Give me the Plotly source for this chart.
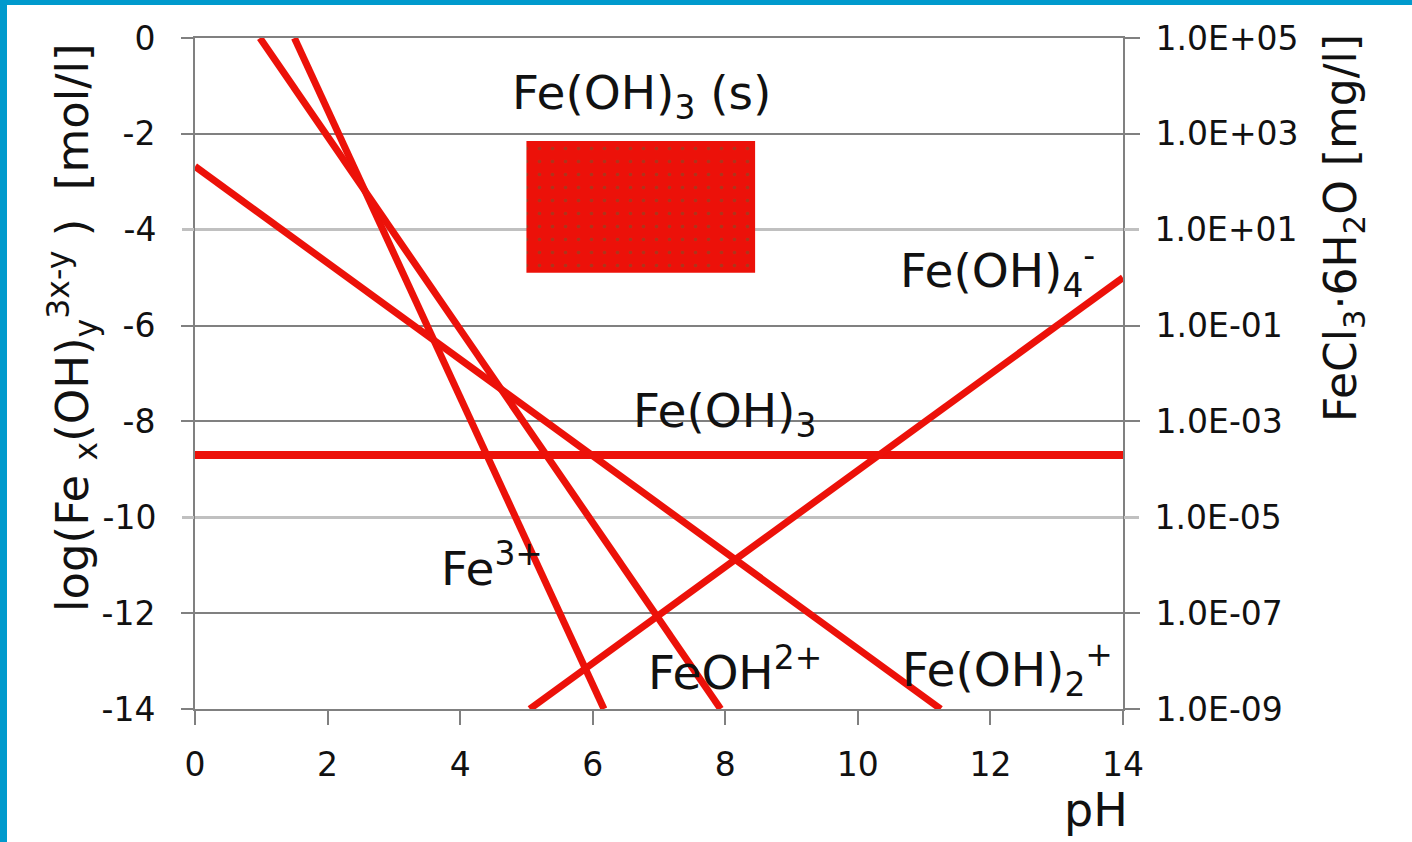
import plotly.graph_objects as go

# ---- data ----
ph_fe3 = [1.5, 6.17]
log_fe3 = [0.0, -14.0]
ph_feoh2 = [0.98, 7.93]
log_feoh2 = [0.0, -14.0]
ph_feoh2p = [0.0, 11.25]
log_feoh2p = [-2.68, -14.0]
ph_feoh3 = [0.0, 14.0]
log_feoh3 = [-8.7, -8.7]
ph_feoh4 = [5.05, 14.0]
log_feoh4 = [-14.0, -5.0]
solid_ph = [5.0, 8.45]
solid_log = [-2.15, -4.9]

x_ticks = [0, 2, 4, 6, 8, 10, 12, 14]
left_ticks_dark = [0, -2, -6, -8, -12, -14]
left_ticks_light = [-4, -10]
right_ticks_dark = [1e5, 1e3, 1e-1, 1e-3, 1e-7, 1e-9]
right_text_dark = ["1.0E+05", "1.0E+03", "1.0E-01", "1.0E-03", "1.0E-07", "1.0E-09"]
right_ticks_light = [1e1, 1e-5]
right_text_light = ["1.0E+01", "1.0E-05"]

labels = [
    ("Fe(OH)<sub>3</sub> (s)", 4.75, -1.21),
    ("Fe(OH)<sub>4</sub><sup>-</sup>", 10.6, -4.86),
    ("Fe(OH)<sub>3</sub>", 6.58, -7.84),
    ("Fe<sup>3+</sup>", 3.68, -11.0),
    ("FeOH<sup>2+</sup>", 6.8, -13.17),
    ("Fe(OH)<sub>2</sub><sup>+</sup>", 10.64, -13.17),
]

RED = "#ec1109"
DARK = "#808080"
LIGHT = "#c0c0c0"
FONT = "DejaVu Sans"

fig = go.Figure()

# solid Fe(OH)3 region
fig.add_trace(go.Scatter(
    x=[solid_ph[0], solid_ph[1], solid_ph[1], solid_ph[0], solid_ph[0]],
    y=[solid_log[0], solid_log[0], solid_log[1], solid_log[1], solid_log[0]],
    mode="lines", line=dict(width=0), fill="toself", fillcolor=RED,
    fillpattern=dict(shape=".", bgcolor=RED, fgcolor="#6b5a2e", size=13, solidity=0.06),
    hoverinfo="skip", showlegend=False))

for xs, ys, w in [(ph_fe3, log_fe3, 7), (ph_feoh2, log_feoh2, 7), (ph_feoh2p, log_feoh2p, 7),
                  (ph_feoh3, log_feoh3, 8), (ph_feoh4, log_feoh4, 7)]:
    fig.add_trace(go.Scatter(x=xs, y=ys, mode="lines", line=dict(color=RED, width=w),
                             showlegend=False, hoverinfo="skip", cliponaxis=False))

# placeholder traces for extra axes
fig.add_trace(go.Scatter(x=[0], y=[1], yaxis="y2", mode="markers", marker=dict(opacity=0),
                         showlegend=False, hoverinfo="skip"))
fig.add_trace(go.Scatter(x=[0], y=[-1], yaxis="y3", mode="markers", marker=dict(opacity=0),
                         showlegend=False, hoverinfo="skip"))
fig.add_trace(go.Scatter(x=[0], y=[1], yaxis="y4", mode="markers", marker=dict(opacity=0),
                         showlegend=False, hoverinfo="skip"))

tickfont = dict(family=FONT, size=33, color="#111111")

fig.update_layout(
    width=1412, height=842,
    margin=dict(l=195, r=289, t=38, b=133),
    paper_bgcolor="white", plot_bgcolor="white",
    font=dict(family=FONT, color="#111111"),
    xaxis=dict(range=[0, 14], tickvals=x_ticks, ticktext=[str(v) for v in x_ticks],
               showgrid=False, zeroline=False, showline=True, linecolor=DARK, linewidth=2,
               mirror=True, ticks="outside", ticklen=14, tickwidth=2, tickcolor=DARK,
               tickfont=tickfont, ticklabelstandoff=11),
    yaxis=dict(range=[-14, 0], tickvals=left_ticks_dark, ticktext=[str(v) for v in left_ticks_dark],
               showgrid=True, gridcolor=DARK, gridwidth=2, zeroline=False,
               showline=True, linecolor=DARK, linewidth=2,
               ticks="outside", ticklen=12, tickwidth=2, tickcolor=DARK,
               tickfont=tickfont, ticklabelstandoff=19),
    yaxis3=dict(range=[-14, 0], overlaying="y", side="left", tickvals=left_ticks_light,
                ticktext=[str(v) for v in left_ticks_light],
                showgrid=True, gridcolor=LIGHT, gridwidth=3, zeroline=False, showline=False,
                ticks="outside", ticklen=12, tickwidth=3, tickcolor=LIGHT,
                tickfont=tickfont, ticklabelstandoff=19),
    yaxis2=dict(type="log", range=[-9, 5], overlaying="y", side="right",
                tickvals=right_ticks_dark, ticktext=right_text_dark,
                showgrid=False, zeroline=False, showline=True, linecolor=DARK, linewidth=2,
                ticks="outside", ticklen=15, tickwidth=2, tickcolor=DARK,
                tickfont=tickfont, ticklabelstandoff=9),
    yaxis4=dict(type="log", range=[-9, 5], overlaying="y", side="right",
                tickvals=right_ticks_light, ticktext=right_text_light,
                showgrid=False, zeroline=False, showline=False,
                ticks="outside", ticklen=15, tickwidth=3, tickcolor=LIGHT,
                tickfont=tickfont, ticklabelstandoff=9),
)

for text, x, y in labels:
    fig.add_annotation(x=x, y=y, xref="x", yref="y", text=text, showarrow=False,
                       xanchor="left", yanchor="middle",
                       font=dict(family=FONT, size=47, color="#111111"))

# axis titles
fig.add_annotation(x=(72 - 195) / 928, y=(709 - 328) / 671, xref="paper", yref="paper",
                   text="log(Fe <sub>x</sub>(OH)<sub>y</sub><sup>3x-y</sup> )  [mol/l]",
                   textangle=-90, showarrow=False, xanchor="center", yanchor="middle",
                   font=dict(family=FONT, size=45, color="#111111"))
fig.add_annotation(x=(1343 - 195) / 928, y=(709 - 228) / 671, xref="paper", yref="paper",
                   text="FeCl<sub>3</sub>·6H<sub>2</sub>O [mg/l]",
                   textangle=-90, showarrow=False, xanchor="center", yanchor="middle",
                   font=dict(family=FONT, size=44, color="#111111"))
fig.add_annotation(x=(1096 - 195) / 928, y=(709 - 810) / 671, xref="paper", yref="paper",
                   text="pH", showarrow=False, xanchor="center", yanchor="middle",
                   font=dict(family=FONT, size=46, color="#111111"))

# blue frame strips
BLUE = "#009acd"
fig.add_shape(type="rect", xref="paper", yref="paper",
              x0=-195 / 928, x1=(7 - 195) / 928, y0=-133 / 671, y1=709 / 671,
              fillcolor=BLUE, line=dict(width=0), layer="above")
fig.add_shape(type="rect", xref="paper", yref="paper",
              x0=-195 / 928, x1=(1412 - 195) / 928, y0=(709 - 5) / 671, y1=709 / 671,
              fillcolor=BLUE, line=dict(width=0), layer="above")

fig.write_html("out.html", config={"displayModeBar": False},
               post_script="document.body.style.margin='0';document.body.style.overflow='hidden';")
